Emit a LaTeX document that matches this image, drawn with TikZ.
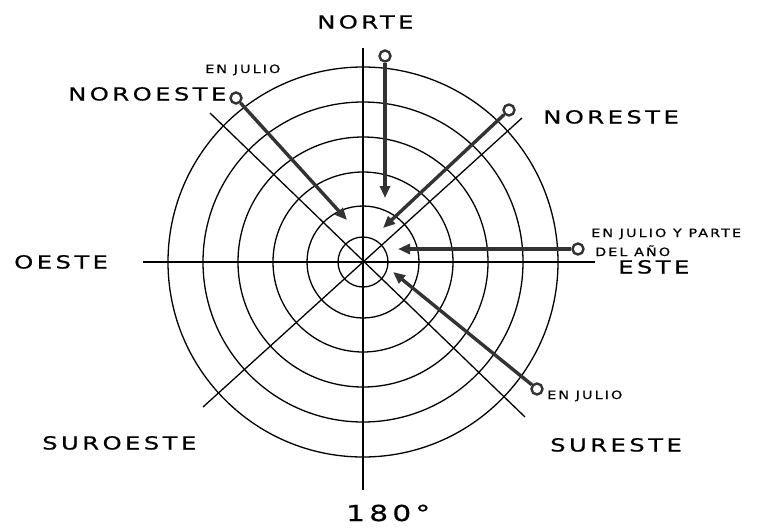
\documentclass[tikz,border=0pt]{standalone}
\usepackage{fontspec}
\newfontfamily\dirfont[FakeStretch=1.35,LetterSpace=19,FakeBold=0.6]{DejaVu Sans}
\newfontfamily\notefont[FakeStretch=1.25,LetterSpace=18,FakeBold=0.4]{DejaVu Sans}
\usetikzlibrary{arrows.meta}
\definecolor{arrowgray}{HTML}{333333}
\tikzset{
    ring/.style={draw, line width=1.3pt},
    axis/.style={draw, line width=1.3pt},
    dir/.style={font={\dirfont\fontsize{18}{18}\selectfont}, inner sep=0pt, anchor=base west},
    note/.style={font={\notefont\fontsize{11.5}{11.5}\selectfont}, inner sep=0pt, anchor=base west},
    marker/.style={circle, draw=arrowgray, line width=2.4pt, minimum size=11pt, inner sep=0pt},
    sunray/.style={-{Triangle[length=12pt,width=10pt]}, line width=3.4pt, draw=arrowgray}
}

\begin{document}
\begin{tikzpicture}[x=1pt,y=-1pt]
    \useasboundingbox (0,0) rectangle (766,528);
    % centre of the sun path chart
    \coordinate (c) at (363,262);

    % rings
    \foreach \r in {25,56,90,125,160,195}
        \draw[ring] (c) circle[radius=\r pt];

    % axes and diagonals
    \draw[axis] (363,48) -- (363,490);
    \draw[axis] (143,262) -- (595,262);
    \draw[axis] (210,113) -- (525,417);
    \draw[axis] (203,407) -- (522,118);

    % markers and arrow tips
    \node[marker] (mn) at (385,56) {};
    \node[marker] (mnw) at (236,98) {};
    \node[marker] (mne) at (509,110) {};
    \node[marker] (me) at (578,249) {};
    \node[marker] (mse) at (537,389) {};
    \coordinate (tn) at (385,198);
    \coordinate (tnw) at (347,220);
    \coordinate (tne) at (383,228);
    \coordinate (te) at (398,249);
    \coordinate (tse) at (393,272);

    % arrows
    \draw[sunray] (mn) -- (tn);
    \draw[sunray] (mnw) -- (tnw);
    \draw[sunray] (mne) -- (tne);
    \draw[sunray] (me) -- (te);
    \draw[sunray] (mse) -- (tse);

    % directions
    \node[dir] (norte) at (317,28.5) {NORTE};
    \node[dir] (noroeste) at (68,100.5) {NOROESTE};
    \node[dir] (noreste) at (543,123.5) {NORESTE};
    \node[dir] (oeste) at (14,268.5) {OESTE};
    \node[dir] (este) at (618,273.5) {ESTE};
    \node[dir] (suroeste) at (42,449.5) {SUROESTE};
    \node[dir] (sureste) at (550,451.5) {SURESTE};
    \node[dir, font={\dirfont\fontsize{22}{22}\selectfont}] (sur) at (346,521) {180°};

    % notes
    \node[note] (julionw) at (205,73) {EN JULIO};
    \node[note] (julioe) at (591,237) {EN JULIO Y PARTE};
    \node[note] (anoe) at (595,256) {DEL AÑO};
    \node[note] (juliose) at (547,399) {EN JULIO};
\end{tikzpicture}
\end{document}
